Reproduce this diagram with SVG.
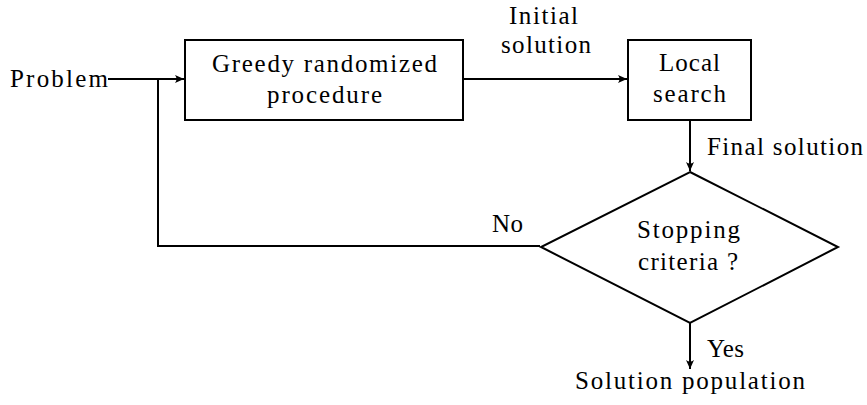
<svg xmlns="http://www.w3.org/2000/svg" width="867" height="405" viewBox="0 0 867 405">
  <style>
    .shape { fill: #ffffff; stroke: #000000; stroke-width: 2; }
    .edge { fill: none; stroke: #000000; stroke-width: 2; }
    .label { font-family: "Liberation Serif", "Noto Serif", "DejaVu Serif", Tinos, FreeSerif, Georgia, serif; font-size: 25px; fill: #000000; }
  </style>
  <defs>
    <marker id="arrow" markerUnits="userSpaceOnUse" markerWidth="12" markerHeight="10" viewBox="-10 -5 12 10" refX="0" refY="0" orient="auto">
      <path d="M0,0 L-9,-4 Q-6,0 -9,4 Z" fill="#000000"/>
    </marker>
  </defs>

  <!-- connectors -->
  <g id="connectors">
    <path class="edge" d="M108,79 H184" marker-end="url(#arrow)"/>
    <path class="edge" d="M540,246 H158 V79"/>
    <path class="edge" d="M463,79 H627" marker-end="url(#arrow)"/>
    <path class="edge" d="M690,120 V171" marker-end="url(#arrow)"/>
    <path class="edge" d="M690,323 V369" marker-end="url(#arrow)"/>
    <text class="label" x="509" y="24" textLength="69" lengthAdjust="spacing">Initial</text>
    <text class="label" x="501" y="53" textLength="90" lengthAdjust="spacing">solution</text>
    <text class="label" x="707" y="155" textLength="156" lengthAdjust="spacing">Final solution</text>
    <text class="label" x="492" y="232" textLength="31" lengthAdjust="spacing">No</text>
    <text class="label" x="707" y="357" textLength="37" lengthAdjust="spacing">Yes</text>
  </g>

  <!-- input -->
  <g id="problem">
    <text class="label" x="10" y="86.5" textLength="98" lengthAdjust="spacing">Problem</text>
  </g>

  <!-- construction step -->
  <g id="greedy">
    <rect class="shape" x="185" y="40" width="278" height="80"/>
    <text class="label" x="212" y="72" textLength="225" lengthAdjust="spacing">Greedy randomized</text>
    <text class="label" x="267" y="103" textLength="115" lengthAdjust="spacing">procedure</text>
  </g>

  <!-- improvement step -->
  <g id="local-search">
    <rect class="shape" x="628" y="40" width="123" height="80"/>
    <text class="label" x="659" y="71" textLength="61" lengthAdjust="spacing">Local</text>
    <text class="label" x="653" y="102" textLength="73" lengthAdjust="spacing">search</text>
  </g>

  <!-- decision -->
  <g id="stopping">
    <polygon class="shape" points="690,172 838,247 690,323 541,247"/>
    <text class="label" x="637" y="238" textLength="103" lengthAdjust="spacing">Stopping</text>
    <text class="label" x="638" y="270" textLength="100" lengthAdjust="spacing">criteria ?</text>
  </g>

  <!-- output -->
  <g id="output">
    <text class="label" x="575" y="389" textLength="230" lengthAdjust="spacing">Solution population</text>
  </g>
</svg>
